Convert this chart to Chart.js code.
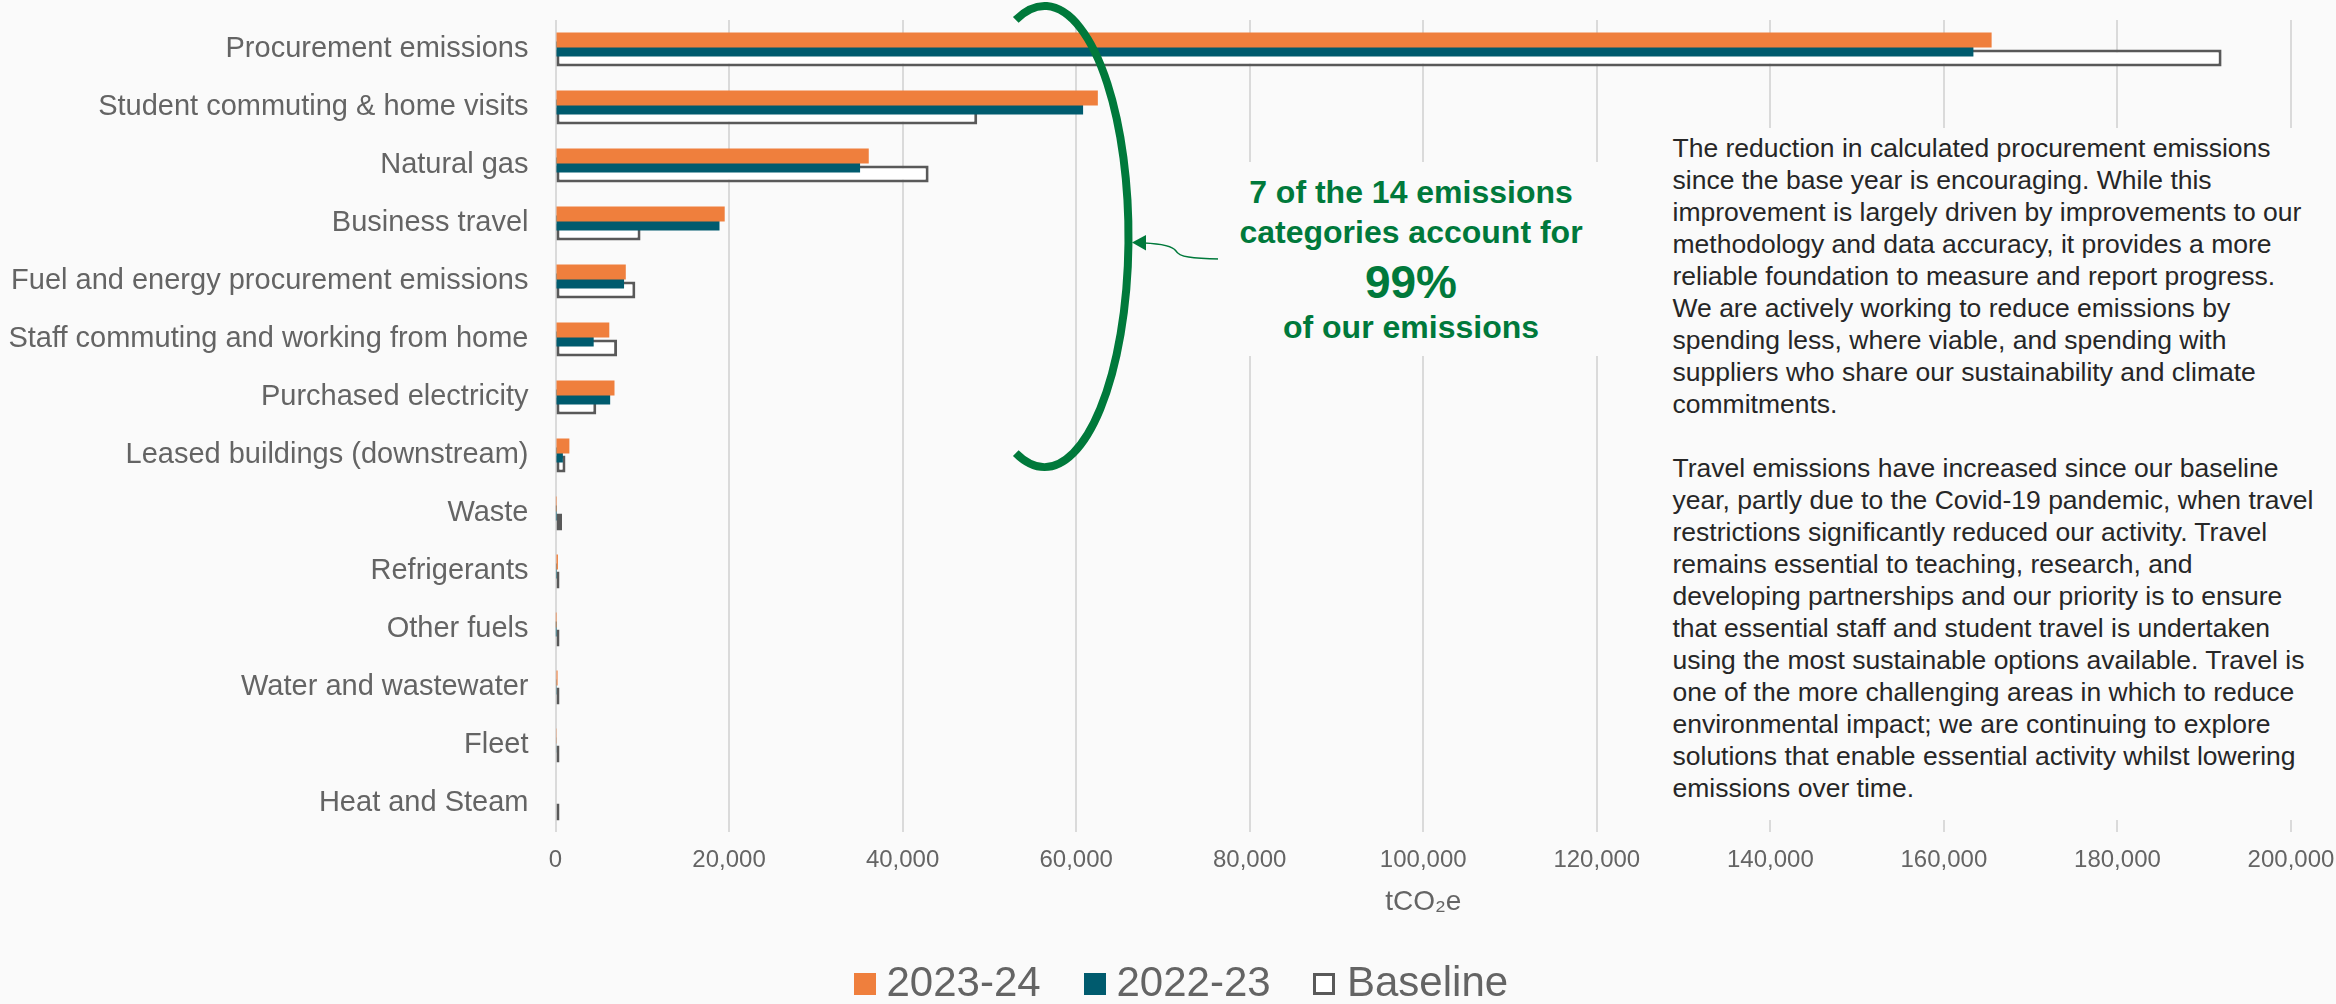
<!DOCTYPE html>
<html>
<head>
<meta charset="utf-8">
<script src="https://cdn.jsdelivr.net/npm/chart.js@4.4.1/dist/chart.umd.min.js"></script>
<style>
  html, body { margin: 0; padding: 0; background: #fafafa; }
  #wrap { position: relative; width: 2336px; height: 1004px; overflow: hidden;
          font-family: "Liberation Sans", Arial, sans-serif; }
  #chart { position: absolute; left: 0; top: 0; }
  .callout { position: absolute; left: 1218px; top: 162px; width: 386px; height: 194px; background: #fafafa; }
  .callout div { position: absolute; left: 0; width: 100%; text-align: center; white-space: nowrap;
                 color: #00793b; font-weight: bold; font-size: 32px; line-height: 40px; }
  .callout .big { font-size: 46px; line-height: 56px; }
  .notes { position: absolute; left: 1655px; top: 128px; width: 681px; height: 692px; background: #fafafa;
           box-sizing: border-box; padding: 4px 0 0 17.5px; color: #262626; font-size: 26.5px; line-height: 32px; }
  .notes span { display: block; white-space: nowrap; height: 32px; }
  .legend { position: absolute; top: 958px; height: 48px; line-height: 48px; font-size: 42px; color: #646464; }
  .legend i { position: absolute; top: 14.5px; width: 22px; height: 22px; box-sizing: border-box; }
  .legend b { position: absolute; top: 0; font-weight: normal; white-space: nowrap; }
</style>
</head>
<body>
<div id="wrap">
  <canvas id="chart" width="2336" height="1004"></canvas>

  <div class="callout">
    <div style="top:10px">7 of the 14 emissions</div>
    <div style="top:50px">categories account for</div>
    <div class="big" style="top:92px">99%</div>
    <div style="top:145px">of our emissions</div>
  </div>

  <div class="notes">
    <span>The reduction in calculated procurement emissions</span>
    <span>since the base year is encouraging. While this</span>
    <span>improvement is largely driven by improvements to our</span>
    <span>methodology and data accuracy, it provides a more</span>
    <span>reliable foundation to measure and report progress.</span>
    <span>We are actively working to reduce emissions by</span>
    <span>spending less, where viable, and spending with</span>
    <span>suppliers who share our sustainability and climate</span>
    <span>commitments.</span>
    <span></span>
    <span>Travel emissions have increased since our baseline</span>
    <span>year, partly due to the Covid-19 pandemic, when travel</span>
    <span>restrictions significantly reduced our activity. Travel</span>
    <span>remains essential to teaching, research, and</span>
    <span>developing partnerships and our priority is to ensure</span>
    <span>that essential staff and student travel is undertaken</span>
    <span>using the most sustainable options available. Travel is</span>
    <span>one of the more challenging areas in which to reduce</span>
    <span>environmental impact; we are continuing to explore</span>
    <span>solutions that enable essential activity whilst lowering</span>
    <span>emissions over time.</span>
  </div>

  <div class="legend" id="legend"></div>
</div>

<script>
// values in tCO2e
const categories = [
    "Procurement emissions",
    "Student commuting & home visits",
    "Natural gas",
    "Business travel",
    "Fuel and energy procurement emissions",
    "Staff commuting and working from home",
    "Purchased electricity",
    "Leased buildings (downstream)",
    "Waste",
    "Refrigerants",
    "Other fuels",
    "Water and wastewater",
    "Fleet",
    "Heat and Steam",
];
const fy2324 = [165500, 62500, 36100, 19500, 8100, 6200, 6800, 1600, 40, 280, 20, 240, 80, 0];
const fy2223 = [163400, 60800, 35100, 18900, 7900, 4400, 6300, 850, 40, 60, 20, 150, 100, 0];
const baseline = [192000, 48600, 43000, 9800, 9200, 7100, 4700, 1150, 750, 400, 350, 350, 250, 200];

const seriesNames = ["2023-24", "2022-23", "Baseline"];
const xMax = 200000;
const xStep = 20000;

const ORANGE = "#ef7f3d";
const TEAL = "#005b6e";
const OUTLINE = "#595959";
const GREEN = "#00793b";
const LABEL = "#646464";
const FONT = '"Liberation Sans", Arial, sans-serif';

// green bracket round the top seven categories, with the curly arrow to the callout
const bracket = {
    id: "bracket",
    afterDatasetsDraw(chart) {
        const ctx = chart.ctx;
        ctx.save();
        ctx.strokeStyle = GREEN;
        ctx.lineWidth = 8;
        ctx.beginPath();
        ctx.ellipse(1044.5, 236.5, 84, 230.5, 0, (-110 * Math.PI) / 180, (110 * Math.PI) / 180);
        ctx.stroke();

        ctx.lineWidth = 1.6;
        ctx.beginPath();
        ctx.moveTo(1220, 259);
        ctx.bezierCurveTo(1192, 258.5, 1179, 257, 1176, 251);
        ctx.bezierCurveTo(1172, 245, 1156, 243.5, 1144, 243);
        ctx.stroke();
        ctx.fillStyle = GREEN;
        ctx.beginPath();
        ctx.moveTo(1132, 242.5);
        ctx.lineTo(1146, 235);
        ctx.lineTo(1146, 250.5);
        ctx.closePath();
        ctx.fill();
        ctx.restore();
    },
};

const shared = {
    categoryPercentage: 0.4655,
    barPercentage: 1.667,
};

new Chart(document.getElementById("chart"), {
    type: "bar",
    data: {
        labels: categories,
        datasets: [
            { ...shared, label: seriesNames[0], data: fy2324, backgroundColor: ORANGE },
            { ...shared, label: seriesNames[1], data: fy2223, backgroundColor: TEAL },
            {
                ...shared,
                label: seriesNames[2],
                data: baseline,
                backgroundColor: "#ffffff",
                borderColor: OUTLINE,
                borderWidth: 3,
                borderSkipped: false,
                barPercentage: 1.889,
                minBarLength: 4,
            },
        ],
    },
    options: {
        indexAxis: "y",
        responsive: false,
        animation: false,
        devicePixelRatio: 1,
        layout: { padding: { top: 20, right: 45, left: 0, bottom: 0 } },
        plugins: {
            legend: { display: false },
            tooltip: { enabled: false },
        },
        scales: {
            x: {
                min: 0,
                max: xMax,
                afterFit: (s) => {
                    s.height = 172;
                    s.paddingLeft = 0;
                    s.paddingRight = 0;
                },
                grid: { color: "#dadada", lineWidth: 2, drawTicks: false },
                border: { display: false },
                ticks: {
                    stepSize: xStep,
                    padding: 14,
                    color: LABEL,
                    font: { family: FONT, size: 24 },
                    callback: (v) => Number(v).toLocaleString("en-GB"),
                },
                title: {
                    display: true,
                    text: "tCO\u2082e",
                    color: LABEL,
                    font: { family: FONT, size: 28 },
                    padding: { top: 0, bottom: 85 },
                },
            },
            y: {
                afterFit: (s) => {
                    s.width = 555.5;
                    s.paddingTop = 0;
                    s.paddingBottom = 0;
                },
                grid: { display: false },
                border: { display: false },
                ticks: {
                    autoSkip: false,
                    padding: 19,
                    color: LABEL,
                    font: { family: FONT, size: 29 },
                },
            },
        },
    },
    plugins: [bracket],
});

// legend in Excel style: small square, short gap, large label
const legendItems = [
    { name: seriesNames[0], box: 854, text: 886.5, style: "background:" + ORANGE },
    { name: seriesNames[1], box: 1084, text: 1116.5, style: "background:" + TEAL },
    { name: seriesNames[2], box: 1313, text: 1347, style: "background:#fff;border:3px solid " + OUTLINE },
];
const legend = document.getElementById("legend");
legendItems.forEach((it) => {
    legend.insertAdjacentHTML(
        "beforeend",
        `<i style="left:${it.box}px;${it.style}"></i><b style="left:${it.text}px">${it.name}</b>`,
    );
});
</script>
</body>
</html>
